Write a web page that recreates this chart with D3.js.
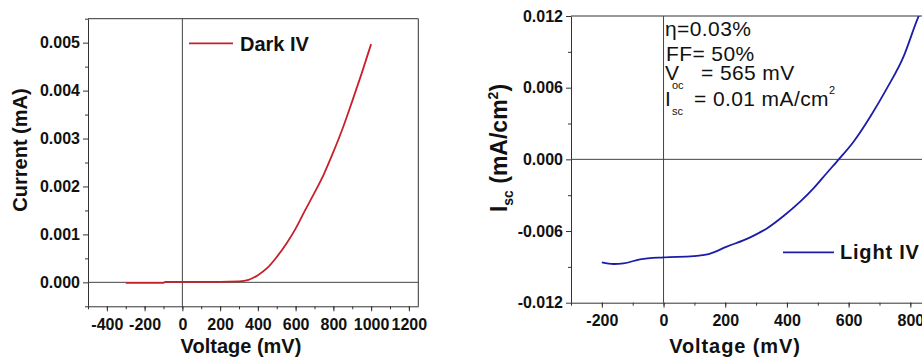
<!DOCTYPE html>
<html lang="en-US">
<head>
<meta charset="utf-8">
<script src="https://d3js.org/d3.v7.min.js"></script>
<style>
body { margin: 0; background: #fff; }
svg { display: block; }
text { font-family: 'Liberation Sans', Arial, sans-serif; fill: #111; }
.tick text { font-size: 16px; font-weight: bold; }
.domain, .tick line { stroke: #333; }
text.title { font-size: 20px; font-weight: bold; }
text.legend { font-size: 20px; font-weight: bold; }
text.note { font-size: 21px; letter-spacing: 0.4px; }
text.sub { font-size: 11px; }
</style>
</head>
<body>
<svg id="chart" width="922" height="361"></svg>
<script>
// Dark IV (left panel)
const darkV = [-300, -200, -100, -90, 0, 100, 200, 300, 350, 400, 450, 500, 550, 600, 650, 700, 750, 800, 850, 900, 950, 1000];
const darkI = [-0.00001, -0.00001, -0.00001, 0.00001, 0.00001, 0.00001, 0.00001, 0.00002, 0.00005, 0.00015, 0.0003, 0.00053, 0.0008, 0.00112, 0.0015, 0.00187, 0.00226, 0.00272, 0.00322, 0.00378, 0.00436, 0.00497];
const darkXTicks = [-400, -200, 0, 200, 400, 600, 800, 1000, 1200];
const darkYTicks = [0, 0.001, 0.002, 0.003, 0.004, 0.005];

// Light IV (right panel)
const lightV = [-200, -162, -130, -76, 0, 97, 146, 205, 281, 335, 389, 443, 486, 530, 568, 616, 670, 724, 778, 822, 840];
const lightI = [-0.00863, -0.00876, -0.00871, -0.00837, -0.0082, -0.0081, -0.00793, -0.00731, -0.00653, -0.00578, -0.00474, -0.00354, -0.00243, -0.00112, 0, 0.00148, 0.00357, 0.00594, 0.0086, 0.01167, 0.0128];
const lightXTicks = [-200, 0, 200, 400, 600, 800];
const lightYTicks = [-0.012, -0.006, 0, 0.006, 0.012];

const svg = d3.select('#chart');
const hyphen = f => d => f(d).replace('\u2212', '-');

function panel(opt) {
  const x = d3.scaleLinear().domain(opt.xDomain).range(opt.xRange);
  const y = d3.scaleLinear().domain(opt.yDomain).range(opt.yRange);
  const g = svg.append('g');
  const [x0, x1] = opt.xRange, [y0, y1] = opt.yRange;

  // minor ticks
  g.append('g').attr('transform', `translate(0,${y0})`)
    .call(d3.axisBottom(x).tickValues(opt.xMinor).tickSize(3).tickFormat(''))
    .call(s => s.select('.domain').remove());
  g.append('g').attr('transform', `translate(${x0},0)`)
    .call(d3.axisLeft(y).tickValues(opt.yMinor).tickSize(3).tickFormat(''))
    .call(s => s.select('.domain').remove());

  // major axes
  g.append('g').attr('transform', `translate(0,${y0})`)
    .call(d3.axisBottom(x).tickValues(opt.xTicks).tickSize(5).tickSizeOuter(0).tickPadding(7).tickFormat(hyphen(d3.format('d'))));
  g.append('g').attr('transform', `translate(${x0},0)`)
    .call(d3.axisLeft(y).tickValues(opt.yTicks).tickSize(5).tickSizeOuter(0).tickPadding(3).tickFormat(hyphen(d3.format('.3f'))));

  // frame top/right
  g.append('line').attr('x1', x0).attr('x2', x1).attr('y1', y1).attr('y2', y1).attr('stroke', '#333');
  g.append('line').attr('x1', x1).attr('x2', x1).attr('y1', y0).attr('y2', y1).attr('stroke', '#333');

  // zero lines
  g.append('line').attr('x1', x0).attr('x2', x1).attr('y1', y(0)).attr('y2', y(0)).attr('stroke', '#444');
  g.append('line').attr('x1', x(0)).attr('x2', x(0)).attr('y1', y0).attr('y2', y1).attr('stroke', '#444');

  const clipId = opt.id + '-clip';
  svg.append('clipPath').attr('id', clipId).append('rect')
    .attr('x', x0).attr('y', y1).attr('width', x1 - x0).attr('height', y0 - y1);

  const pts = opt.v.map((d, i) => [d, opt.i[i]]);
  g.append('path')
    .datum(pts)
    .attr('clip-path', `url(#${clipId})`)
    .attr('fill', 'none')
    .attr('stroke', opt.color)
    .attr('stroke-width', 1.8)
    .attr('d', d3.line().curve(d3.curveMonotoneX).x(d => x(d[0])).y(d => y(d[1])));

  return { x, y, g };
}

// left
const L = panel({
  id: 'dark',
  xDomain: [-500, 1250], xRange: [88, 418.3],
  yDomain: [-0.0005, 0.0055], yRange: [306.3, 18.7],
  xTicks: darkXTicks, xMinor: d3.range(-500, 1251, 100),
  yTicks: darkYTicks, yMinor: d3.range(-0.0005, 0.0056, 0.001),
  v: darkV, i: darkI, color: '#c8202a'
});

L.g.append('line').attr('x1', 189).attr('x2', 233).attr('y1', 43.3).attr('y2', 43.3)
  .attr('stroke', '#c8202a').attr('stroke-width', 1.8);
L.g.append('text').attr('class', 'legend').attr('x', 240).attr('y', 51).text('Dark IV');

L.g.append('text').attr('class', 'title')
  .attr('transform', 'translate(27,150) rotate(-90)').attr('text-anchor', 'middle')
  .text('Current (mA)');
L.g.append('text').attr('class', 'title')
  .attr('x', 241).attr('y', 353).attr('text-anchor', 'middle')
  .text('Voltage (mV)');

// right
const R = panel({
  id: 'light',
  xDomain: [-300, 950], xRange: [571, 956.6],
  yDomain: [-0.012, 0.012], yRange: [302.7, 16],
  xTicks: lightXTicks, xMinor: d3.range(-300, 951, 100),
  yTicks: lightYTicks, yMinor: [-0.009, -0.003, 0.003, 0.009],
  v: lightV, i: lightI, color: '#1c1ca8'
});

R.g.append('line').attr('x1', 783).attr('x2', 834).attr('y1', 252.3).attr('y2', 252.3)
  .attr('stroke', '#1c1ca8').attr('stroke-width', 1.8);
R.g.append('text').attr('class', 'legend').attr('x', 840).attr('y', 258.5)
  .style('letter-spacing', '0.8px').text('Light IV');

const rt = R.g.append('text').attr('class', 'title')
  .style('font-size', '23px')
  .attr('transform', 'translate(507,148) rotate(-90)').attr('text-anchor', 'middle');
rt.append('tspan').text('I');
rt.append('tspan').attr('dy', 6).style('font-size', '14px').text('sc');
rt.append('tspan').attr('dy', -6).text(' (mA/cm');
rt.append('tspan').attr('dy', -9).style('font-size', '14px').text('2');
rt.append('tspan').attr('dy', 9).text(')');

R.g.append('text').attr('class', 'title')
  .attr('x', 735).attr('y', 353).attr('text-anchor', 'middle')
  .style('letter-spacing', '0.9px')
  .text('Voltage (mV)');

// annotation
const notes = R.g.append('g');
notes.append('text').attr('class', 'note').attr('x', 665).attr('y', 36).text('η=0.03%');
notes.append('text').attr('class', 'note').attr('x', 666).attr('y', 60.5).text('FF= 50%');
notes.append('text').attr('class', 'note').attr('x', 665).attr('y', 80).text('V');
notes.append('text').attr('class', 'sub').attr('x', 672).attr('y', 89).text('oc');
notes.append('text').attr('class', 'note').attr('x', 701).attr('y', 80).text('= 565 mV');
notes.append('text').attr('class', 'note').attr('x', 665).attr('y', 106).text('I');
notes.append('text').attr('class', 'sub').attr('x', 672).attr('y', 115).text('sc');
notes.append('text').attr('class', 'note').attr('x', 694).attr('y', 106).text('= 0.01 mA/cm');
notes.append('text').attr('class', 'sub').attr('x', 829).attr('y', 94).text('2');
</script>
</body>
</html>
